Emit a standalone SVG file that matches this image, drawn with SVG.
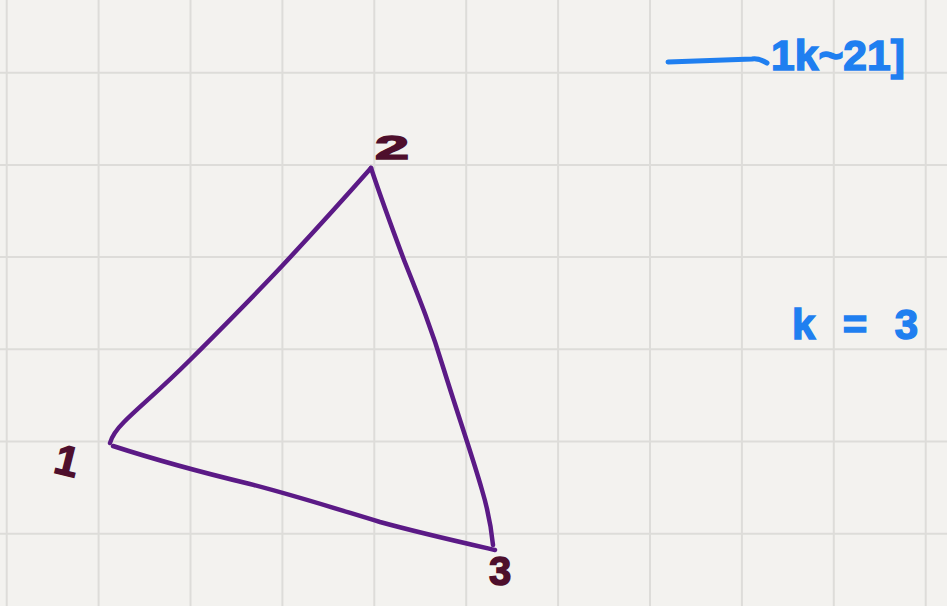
<svg xmlns="http://www.w3.org/2000/svg" width="947" height="606" viewBox="0 0 947 606">
  <style>
    .grid line { stroke: #dddcd9; stroke-width: 2; }
    .edge { fill: none; stroke: #5b1a86; stroke-width: 4.5; stroke-linecap: round; stroke-linejoin: round; }
    .lbl { font-family: "Liberation Sans", "DejaVu Sans", sans-serif; fill: #4e0f2c; stroke: #4e0f2c; stroke-width: 1.5; font-weight: bold; }
    .note { font-family: "Liberation Sans", "DejaVu Sans", sans-serif; fill: #1f7ff0; stroke: #1f7ff0; stroke-width: 1.5; font-weight: bold; }
    .blue { fill: none; stroke: #1f7ff0; stroke-width: 5; stroke-linecap: round; }
  </style>
  <rect width="947" height="606" fill="#f3f2ef"/>
  <g class="grid">
    <line x1="6.7" y1="0" x2="6.7" y2="606"/>
    <line x1="98.6" y1="0" x2="98.6" y2="606"/>
    <line x1="190.5" y1="0" x2="190.5" y2="606"/>
    <line x1="282.4" y1="0" x2="282.4" y2="606"/>
    <line x1="374.3" y1="0" x2="374.3" y2="606"/>
    <line x1="466.2" y1="0" x2="466.2" y2="606"/>
    <line x1="558.1" y1="0" x2="558.1" y2="606"/>
    <line x1="650" y1="0" x2="650" y2="606"/>
    <line x1="741.9" y1="0" x2="741.9" y2="606"/>
    <line x1="833.8" y1="0" x2="833.8" y2="606"/>
    <line x1="925.7" y1="0" x2="925.7" y2="606"/>
    <line x1="0" y1="72.7" x2="947" y2="72.7"/>
    <line x1="0" y1="164.9" x2="947" y2="164.9"/>
    <line x1="0" y1="257.1" x2="947" y2="257.1"/>
    <line x1="0" y1="349.3" x2="947" y2="349.3"/>
    <line x1="0" y1="441.5" x2="947" y2="441.5"/>
    <line x1="0" y1="533.7" x2="947" y2="533.7"/>
  </g>
  <g id="connectors">
    <path class="edge" d="M110,443 C112,436 116,430 124,422 C140,406 160,390 190,360 C220,330 250,300 282,266 C310,236 340,203 371,168"/>
    <path class="edge" d="M371,168 C380,195 392,228 404,260 C420,300 432,330 444,370 C458,415 472,455 482,490 C488,510 491,525 493,545"/>
    <path class="edge" d="M113,446 C150,458 200,472 250,484 C300,497 340,510 380,522 C420,533 460,542 495,550"/>
  </g>
  <g id="node-1">
    <text class="lbl" x="56" y="475" font-size="42" transform="rotate(14 66 458)">1</text>
  </g>
  <g id="node-2">
    <text class="lbl" x="375" y="159" font-size="34" textLength="34" lengthAdjust="spacingAndGlyphs">2</text>
  </g>
  <g id="node-3">
    <text class="lbl" x="489" y="585" font-size="40">3</text>
  </g>
  <g id="notes">
    <path class="blue" d="M668,62 C700,61 730,60 752,59 C758,58 762,60 767,63"/>
    <text class="note" x="771" y="70" font-size="42" textLength="134" lengthAdjust="spacingAndGlyphs">1k~21]</text>
    <text class="note" x="792" y="339" font-size="42" textLength="126" lengthAdjust="spacing">k = 3</text>
  </g>
</svg>
